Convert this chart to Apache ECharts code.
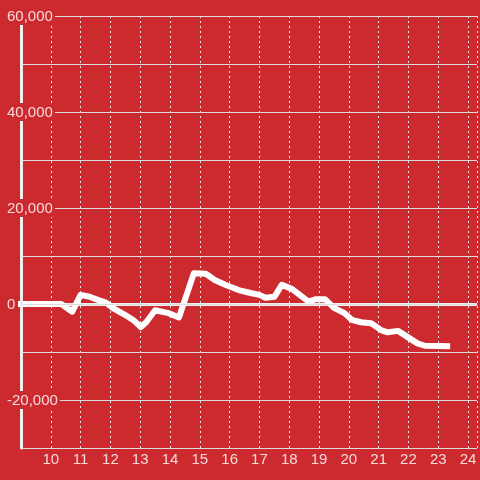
<!DOCTYPE html>
<html>
<head>
<meta charset="utf-8">
<script src="https://cdn.jsdelivr.net/npm/echarts@6/dist/echarts.min.js"></script>
<style>html,body{margin:0;padding:0;background:#cc2a2f}#c{width:480px;height:480px}</style>
</head>
<body>
<div id="c"></div>
<script>
var hours = [9.0, 10.35, 10.72, 11.0, 11.3, 11.6, 11.85, 12.1, 12.5, 12.8, 13.02, 13.2, 13.5, 13.95, 14.3, 14.8, 15.2, 15.5, 15.85, 16.3, 16.7, 17.0, 17.2, 17.5, 17.75, 18.1, 18.35, 18.65, 18.9, 19.2, 19.5, 19.85, 20.1, 20.4, 20.75, 21.1, 21.3, 21.65, 21.95, 22.3, 22.55, 23.3];
var values = [0, 0, -1600, 1900, 1500, 800, 300, -900, -2300, -3500, -4800, -3800, -1300, -1900, -2800, 6400, 6300, 5000, 4000, 2900, 2300, 1900, 1300, 1500, 4000, 3100, 1900, 500, 1000, 1000, -800, -1900, -3300, -3800, -4000, -5500, -5900, -5600, -6800, -8200, -8700, -8800];
var xTicks = [10, 11, 12, 13, 14, 15, 16, 17, 18, 19, 20, 21, 22, 23, 24];
var yLabelValues = [60000, 40000, 20000, 0, -20000];

var bg = '#cc2a2f';
var labelColor = '#f5dada';
var chart = echarts.init(document.getElementById('c'));
var points = hours.map(function (h, i) { return [h, values[i]]; });

chart.setOption({
  backgroundColor: bg,
  animation: false,
  grid: { left: 21, right: 0, top: 16, bottom: 32 },
  xAxis: {
    type: 'value', min: 9, max: 24.3, interval: 1,
    axisLine: { show: true, lineStyle: { color: '#d6d6d6', width: 1 } },
    axisTick: { show: false },
    splitLine: { show: true, lineStyle: { color: '#e8e8e8', type: [2, 3], width: 1 } },
    axisLabel: {
      color: labelColor, fontSize: 15, fontFamily: 'Liberation Sans, Arial, sans-serif', margin: 4,
      formatter: function (v) { return xTicks.indexOf(v) >= 0 ? String(v) : ''; }
    }
  },
  yAxis: {
    type: 'value', min: -30000, max: 60000, interval: 10000,
    axisLine: { show: true, lineStyle: { color: '#eeeeee', width: 3 } },
    axisTick: { show: false },
    splitLine: { show: true, lineStyle: { color: '#dcdcdc', width: 1 } },
    axisLabel: {
      inside: true, margin: -15,
      formatter: function (v) {
        return yLabelValues.indexOf(v) >= 0 ? '{a|' + v.toLocaleString('en-US') + '}' : '';
      },
      rich: {
        a: { color: labelColor, fontSize: 15, fontFamily: 'Liberation Sans, Arial, sans-serif',
             backgroundColor: bg, padding: [2, 2, 1, 1] }
      }
    },
    z: 3
  },
  series: [{
    type: 'line',
    data: points,
    showSymbol: false,
    symbol: 'none',
    clip: false,
    lineStyle: { color: '#ffffff', width: 6, cap: 'square', join: 'round' },
    markLine: {
      silent: true, symbol: 'none', label: { show: false },
      lineStyle: { color: '#eeeeee', width: 3, type: 'solid' },
      data: [[{ coord: [9, 0] }, { coord: [24.3, 0] }]],
      z: 1
    },
    z: 2
  }]
});
</script>
</body>
</html>
